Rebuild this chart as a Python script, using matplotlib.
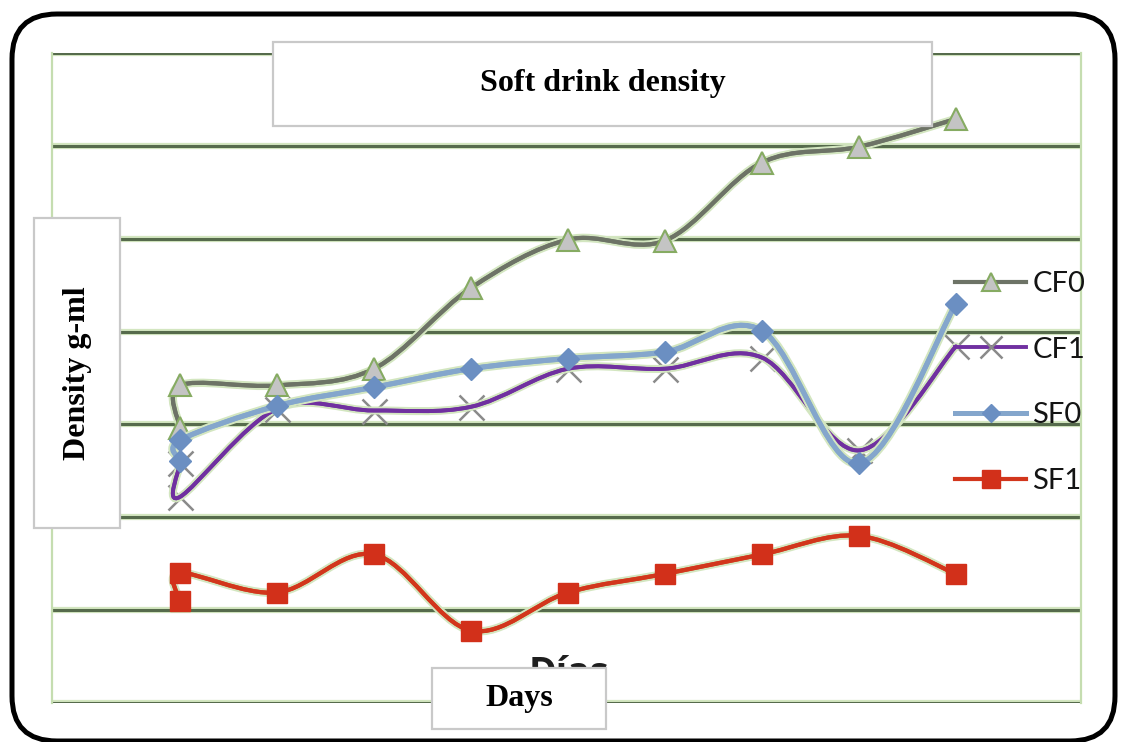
import numpy as np
import matplotlib

matplotlib.use("Agg")
import matplotlib.pyplot as plt
import matplotlib.patheffects as pe
from matplotlib.path import Path
from matplotlib.patches import PathPatch, Rectangle, FancyBboxPatch
from matplotlib.lines import Line2D
from matplotlib.transforms import IdentityTransform

# data (first day appears twice in the source chart)
days = [0, 0, 1, 2, 3, 4, 5, 6, 7, 8]
cf0 = [2.96, 3.42, 3.42, 3.60, 4.47, 4.99, 4.98, 5.82, 5.99, 6.29]
cf1 = [2.58, 2.22, 3.17, 3.15, 3.19, 3.60, 3.60, 3.72, 2.72, 3.84]
sf0 = [2.61, 2.83, 3.20, 3.40, 3.60, 3.71, 3.78, 4.01, 2.58, 4.30]
sf1 = [1.10, 1.40, 1.19, 1.60, 0.78, 1.19, 1.39, 1.60, 1.80, 1.39]
labels = ["CF0", "CF1", "SF0", "SF1"]

GLOW = "#d3e6c0"


def smooth_path(x, y):
    """Catmull-Rom through the points, as cubic Bezier segments (Excel-like smoothing)."""
    pts = np.column_stack([x, y]).astype(float)
    ext = np.vstack([pts[0], pts, pts[-1]])
    verts, codes = [pts[0]], [Path.MOVETO]
    for i in range(1, len(ext) - 2):
        p0, p1, p2, p3 = ext[i - 1], ext[i], ext[i + 1], ext[i + 2]
        verts += [p1 + (p2 - p0) / 6, p2 - (p3 - p1) / 6, p2]
        codes += [Path.CURVE4] * 3
    return Path(verts, codes)


fig = plt.figure(figsize=(11.21, 7.42), dpi=100, facecolor="white")
ax = fig.add_axes([52 / 1121, 1 - 703 / 742, 1029 / 1121, 650 / 742])
ax.set_xlim(-1.32, 9.29)
ax.set_ylim(0, 7)
ax.set_yticks(range(8))
ax.set_xticks([])
ax.tick_params(left=False, labelleft=False)
ax.grid(axis="y", color="#566b4c", lw=2.2)
for gl in ax.get_ygridlines():
    gl.set_path_effects([pe.withStroke(linewidth=4.5, foreground=GLOW)])
for side in ("top", "bottom"):
    ax.spines[side].set_visible(False)
for side in ("left", "right"):
    ax.spines[side].set_color("#c5ddb0")
    ax.spines[side].set_linewidth(1.6)

styles = [
    dict(line="#6d7366", lw=3.0, marker="^", ms=16, mfc="#c4c4c4", mec="#86ab62", mew=1.5),
    dict(line="#7030a0", lw=2.8, marker="x", ms=18, mfc="none", mec="#8a8a8a", mew=1.8),
    dict(line="#84a6cc", lw=3.6, marker="D", ms=11, mfc="#6b8fc2", mec="#6b8fc2", mew=1),
    dict(line="#d2361c", lw=3.0, marker="s", ms=15, mfc="#d2301a", mec="#d2301a", mew=1),
]
series = [cf0, cf1, sf0, sf1]

handles = []
for k, (vals, st) in enumerate(zip(series, styles)):
    z = 3 + 2 * k
    if st["marker"] == "x":
        # the cross markers sit under the purple line in the source
        ax.plot(days, vals, ls="none", marker="x", ms=st["ms"], mec=st["mec"], mew=st["mew"], zorder=z)
        z_line = z + 0.5
    else:
        z_line = z
    ax.add_patch(PathPatch(smooth_path(days, vals), fc="none", ec=st["line"], lw=st["lw"],
                           capstyle="round", zorder=z_line,
                           path_effects=[pe.withStroke(linewidth=st["lw"] + 3, foreground=GLOW),
                                         pe.Normal()]))
    if st["marker"] != "x":
        ax.plot(days, vals, ls="none", marker=st["marker"], ms=st["ms"], mfc=st["mfc"],
                mec=st["mec"], mew=st["mew"], zorder=z + 1)
    handles.append(Line2D([], [], color=st["line"], lw=st["lw"], marker=st["marker"],
                          ms=st["ms"] * 0.85, mfc=st["mfc"], mec=st["mec"], mew=st["mew"]))

leg = fig.legend(handles, labels, loc="upper left", bbox_to_anchor=(955 / 1121, 1 - 271 / 742),
                 frameon=False, borderpad=0, borderaxespad=0, handlelength=2.45,
                 handletextpad=0.2, labelspacing=1.36,
                 prop=dict(family="Lato", size=21))
for t in leg.get_texts():
    t.set_color("#141414")

# stray text of the original axis title, mostly hidden by the "Days" box
fig.text(569 / 1121, 1 - 684 / 742, "Días", ha="center", va="baseline", fontsize=27,
         fontweight="bold", family="Open Sans", color="#1e1e1e", zorder=5)

serif = dict(family="Liberation Serif", fontweight="bold", fontsize=23, color="black")


def label_box(x0, y0, x1, y1, text, rotation=0):
    fig.add_artist(Rectangle((x0 / 1121, 1 - y1 / 742), (x1 - x0) / 1121, (y1 - y0) / 742,
                             transform=fig.transFigure, fc="white", ec="#c9c9c9", lw=1.6, zorder=20))
    fig.text((x0 + x1) / 2 / 1121, 1 - (y0 + y1) / 2 / 742, text, ha="center", va="center",
             rotation=rotation, zorder=21, **serif)


label_box(273, 42, 932, 126, "Soft drink density")
label_box(432, 668, 606, 729, "Days")
label_box(34, 218, 120, 528, "Density g-ml", rotation=90)

# rounded black frame round the whole chart
fig.add_artist(FancyBboxPatch((12, 1), 1103, 727, boxstyle="round,pad=0,rounding_size=45",
                              transform=IdentityTransform(), fc="none", ec="black", lw=3.6, zorder=30))

fig.savefig("out.png", dpi=100)
